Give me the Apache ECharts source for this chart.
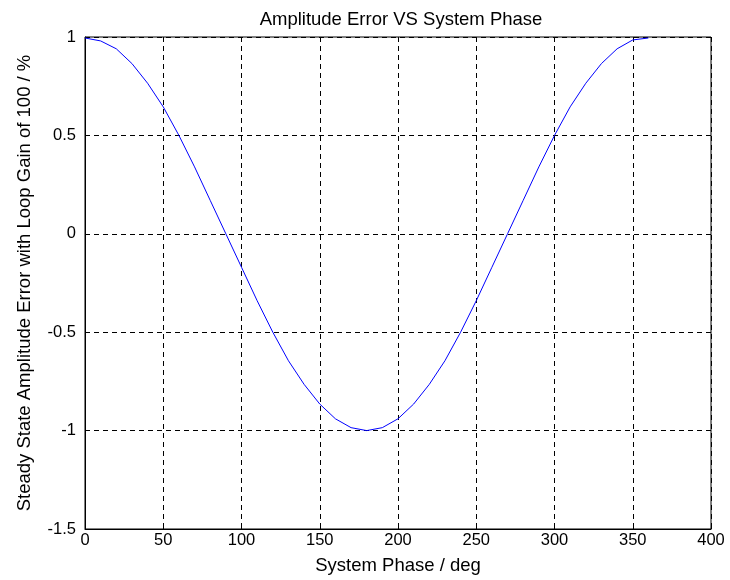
<!DOCTYPE html>
<html>
<head>
<meta charset="utf-8">
<script src="https://cdn.jsdelivr.net/npm/echarts@6/dist/echarts.min.js"></script>
<style>html,body{margin:0;padding:0;background:#fff;}#c{width:730px;height:580px;}</style>
</head>
<body>
<div id="c"></div>
<script>
const phaseDeg = [0,10,20,30,40,50,60,70,80,90,100,110,120,130,140,150,160,170,180,190,200,210,220,230,240,250,260,270,280,290,300,310,320,330,340,350,360];
const ampError = [0.995,0.98,0.94,0.865,0.765,0.645,0.50,0.34,0.17,0.0,-0.17,-0.34,-0.50,-0.645,-0.765,-0.865,-0.94,-0.985,-1.0,-0.985,-0.94,-0.865,-0.765,-0.645,-0.50,-0.34,-0.17,0.0,0.17,0.34,0.50,0.645,0.765,0.865,0.94,0.985,0.995];
const titleText = 'Amplitude Error VS System Phase';
const xName = 'System Phase / deg';
const yName = 'Steady State Amplitude Error with Loop Gain of 100 / %';

const chart = echarts.init(document.getElementById('c'), null, {renderer:'canvas'});
const font = 'Liberation Sans, Arial, sans-serif';
const dash = {color:'#000', width:1, type:[5,4]};
chart.setOption({
  animation:false,
  backgroundColor:'#fff',
  title:{text:titleText, left:396, top:5, textAlign:'center',
    textStyle:{fontFamily:font, fontSize:18.5, fontWeight:'normal', color:'#000'}},
  grid:{left:85, right:19, top:37, bottom:50, show:true, borderColor:'#000', borderWidth:1, backgroundColor:'#fff'},
  xAxis:{type:'value', min:0, max:400, interval:50,
    name:xName, nameLocation:'middle', nameGap:27,
    nameTextStyle:{fontFamily:font, fontSize:18.5, color:'#000'},
    axisLine:{show:true, onZero:false, lineStyle:{color:'#000', width:1}},
    axisTick:{show:true, inside:true, length:5, lineStyle:{color:'#000'}},
    axisLabel:{fontFamily:font, fontSize:16.5, color:'#000', margin:3},
    splitLine:{show:true, lineStyle:dash}},
  yAxis:{type:'value', min:-1.5, max:1, interval:0.5,
    name:yName, nameLocation:'middle', nameGap:51,
    nameTextStyle:{fontFamily:font, fontSize:18.5, color:'#000'},
    axisLine:{show:true, onZero:false, lineStyle:{color:'#000', width:1}},
    axisTick:{show:true, inside:true, length:5, lineStyle:{color:'#000'}},
    axisLabel:{fontFamily:font, fontSize:16.5, color:'#000', margin:9},
    splitLine:{show:true, lineStyle:dash}},
  series:[{type:'line', data:phaseDeg.map((p,i)=>[p, ampError[i]]),
    showSymbol:false, smooth:false, lineStyle:{color:'#0000ff', width:1}}]
});
</script>
</body>
</html>
